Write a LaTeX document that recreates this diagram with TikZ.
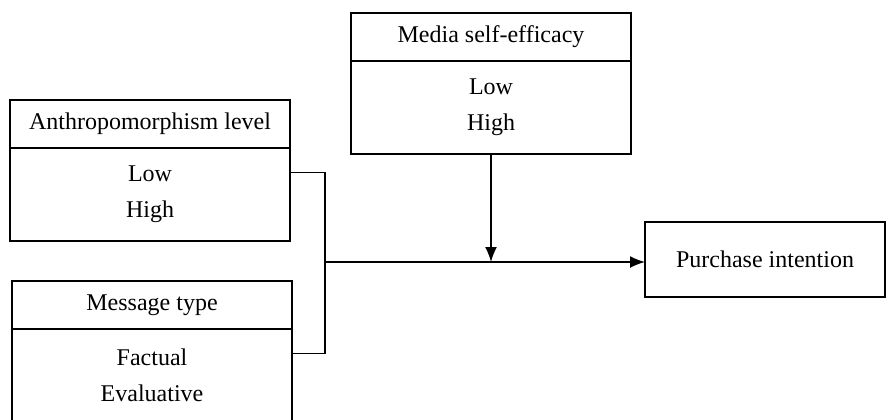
\documentclass[tikz,border=0pt]{standalone}
\usepackage{fontspec}
\setmainfont{Liberation Serif}
\usetikzlibrary{arrows.meta, positioning}
\tikzset{
  head/.style={rectangle,draw,line width=0.8pt,outer sep=0pt,minimum width=140pt,minimum height=24pt,inner sep=2pt,font=\fontsize{12}{14}\selectfont},
  body/.style={rectangle,draw,line width=0.8pt,outer sep=0pt,minimum width=140pt,minimum height=46.5pt,align=center,inner sep=2pt,font=\fontsize{12}{18}\selectfont},
  outcome/.style={rectangle,draw,line width=0.8pt,outer sep=0pt,minimum width=120pt,minimum height=37.5pt,font=\fontsize{12}{14}\selectfont},
  line/.style={-{Latex[length=7.5pt,width=6pt]},line width=0.8pt}
}
\begin{document}
\begin{tikzpicture}
\useasboundingbox (0,0) rectangle (444pt,-209.5pt);
\node[head] (anthH) at (75pt,-62pt) {Anthropomorphism level};
\node[body, below=0pt of anthH] (anthB) {Low\\High};
\node[head] (msgH) at (76pt,-152.5pt) {Message type};
\node[body, below=0pt of msgH] (msgB) {Factual\\Evaluative};
\node[head] (mediaH) at (245.5pt,-18.5pt) {Media self-efficacy};
\node[body, below=0pt of mediaH] (mediaB) {Low\\High};
\node[outcome] (pi) at (382.5pt,-129.75pt) {Purchase intention};
\coordinate (join) at (162.5pt,-131pt);
\draw[line width=0.8pt] ([yshift=11pt]anthB.east) -| (join) |- ([yshift=11pt]msgB.east);
\draw[line] (join) -- (join -| pi.west);
\draw[line] (mediaB.south) -- (mediaB.south |- join);
\end{tikzpicture}
\end{document}
